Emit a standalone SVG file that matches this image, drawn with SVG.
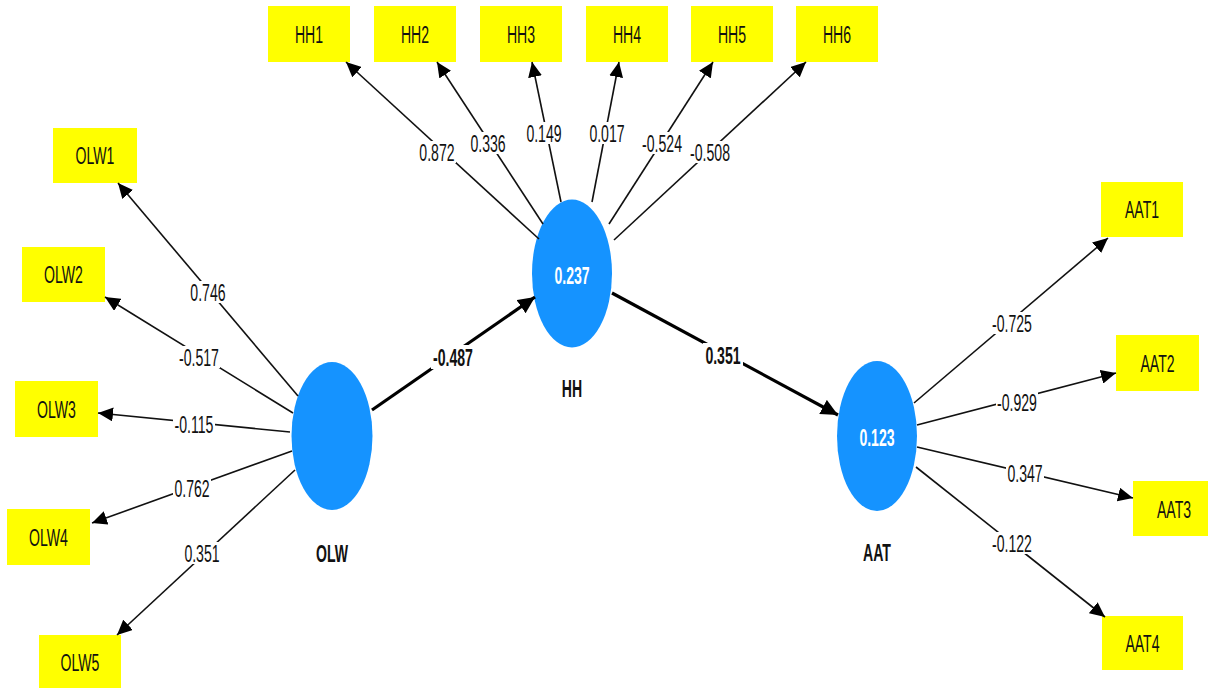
<svg xmlns="http://www.w3.org/2000/svg" width="1208" height="688" viewBox="0 0 1208 688">
<style>
.box{fill:#ffff00}
.lv{fill:#1593ff}
.t{font-family:"Liberation Sans",Arial,sans-serif;font-size:24px;text-anchor:middle;fill:#111}
.b{font-weight:bold}
.w{fill:#ffffff}
.ln{stroke:#111;stroke-width:1.6;fill:none;marker-end:url(#ah)}
.lk{stroke:#000;stroke-width:3.2;fill:none;marker-end:url(#ahb)}
.bg{fill:#ffffff}
</style>
<defs>
<marker id="ah" markerUnits="userSpaceOnUse" markerWidth="16" markerHeight="14" refX="15" refY="7" orient="auto"><path d="M0,0 L15,7 L0,14 z" fill="#000"/></marker>
<marker id="ahb" markerUnits="userSpaceOnUse" markerWidth="18" markerHeight="16" refX="17" refY="8" orient="auto"><path d="M0,0 L17,8 L0,16 z" fill="#000"/></marker>
</defs>
<rect width="1208" height="688" fill="#ffffff"/>

<g id="node-OLW1"><rect class="box" x="53" y="128" width="84" height="55"/><text class="t" transform="scale(0.5867 1)" x="161.9" y="164.5">OLW1</text></g>
<g id="node-OLW2"><rect class="box" x="22" y="247" width="83" height="55"/><text class="t" transform="scale(0.5867 1)" x="108.2" y="283.5">OLW2</text></g>
<g id="node-OLW3"><rect class="box" x="15" y="381" width="83" height="56"/><text class="t" transform="scale(0.5867 1)" x="96.3" y="418">OLW3</text></g>
<g id="node-OLW4"><rect class="box" x="7" y="509" width="83" height="56"/><text class="t" transform="scale(0.5867 1)" x="82.7" y="546">OLW4</text></g>
<g id="node-OLW5"><rect class="box" x="39" y="635" width="82" height="53"/><text class="t" transform="scale(0.5867 1)" x="136.4" y="671">OLW5</text></g>

<g id="node-HH1"><rect class="box" x="268" y="6" width="82" height="56"/><text class="t" transform="scale(0.5867 1)" x="526.7" y="43">HH1</text></g>
<g id="node-HH2"><rect class="box" x="374" y="6" width="82" height="56"/><text class="t" transform="scale(0.5867 1)" x="707.4" y="43">HH2</text></g>
<g id="node-HH3"><rect class="box" x="480" y="6" width="82" height="56"/><text class="t" transform="scale(0.5867 1)" x="888.0" y="43">HH3</text></g>
<g id="node-HH4"><rect class="box" x="586" y="6" width="82" height="56"/><text class="t" transform="scale(0.5867 1)" x="1068.7" y="43">HH4</text></g>
<g id="node-HH5"><rect class="box" x="691" y="6" width="82" height="56"/><text class="t" transform="scale(0.5867 1)" x="1247.7" y="43">HH5</text></g>
<g id="node-HH6"><rect class="box" x="796" y="6" width="82" height="56"/><text class="t" transform="scale(0.5867 1)" x="1426.6" y="43">HH6</text></g>

<g id="node-AAT1"><rect class="box" x="1101" y="182" width="82" height="55"/><text class="t" transform="scale(0.5867 1)" x="1946.5" y="218.5">AAT1</text></g>
<g id="node-AAT2"><rect class="box" x="1116" y="335" width="83" height="56"/><text class="t" transform="scale(0.5867 1)" x="1972.9" y="372">AAT2</text></g>
<g id="node-AAT3"><rect class="box" x="1133" y="481" width="82" height="55"/><text class="t" transform="scale(0.5867 1)" x="2001.0" y="518">AAT3</text></g>
<g id="node-AAT4"><rect class="box" x="1102" y="616" width="81" height="54"/><text class="t" transform="scale(0.5867 1)" x="1947.3" y="652">AAT4</text></g>

<g id="node-OLW"><ellipse class="lv" cx="332" cy="436" rx="40.5" ry="74"/><text class="t b" transform="scale(0.5867 1)" x="565.9" y="562">OLW</text></g>
<g id="node-HH"><ellipse class="lv" cx="572" cy="273.5" rx="40" ry="74"/><text class="t b w" transform="scale(0.5867 1)" x="975.0" y="284">0.237</text><text class="t b" transform="scale(0.5867 1)" x="975.0" y="397">HH</text></g>
<g id="node-AAT"><ellipse class="lv" cx="877" cy="436" rx="40" ry="75"/><text class="t b w" transform="scale(0.5867 1)" x="1494.8" y="446">0.123</text><text class="t b" transform="scale(0.5867 1)" x="1494.8" y="561">AAT</text></g>

<g id="connectors">
<line class="ln" x1="298" y1="396" x2="118" y2="183"/>
<line class="ln" x1="293" y1="413" x2="105" y2="297"/>
<line class="ln" x1="290" y1="432" x2="98" y2="413"/>
<line class="ln" x1="292" y1="451" x2="92" y2="523"/>
<line class="ln" x1="295" y1="470" x2="117" y2="635"/>
<line class="ln" x1="539" y1="239" x2="346" y2="62"/>
<line class="ln" x1="543" y1="224" x2="437" y2="62"/>
<line class="ln" x1="561" y1="202" x2="532" y2="62"/>
<line class="ln" x1="592" y1="202" x2="619" y2="62"/>
<line class="ln" x1="609" y1="224" x2="713" y2="62"/>
<line class="ln" x1="614" y1="240" x2="806" y2="62"/>
<line class="ln" x1="914" y1="403" x2="1108" y2="238"/>
<line class="ln" x1="917" y1="425" x2="1116" y2="373"/>
<line class="ln" x1="917" y1="447" x2="1133" y2="498"/>
<line class="ln" x1="916" y1="467" x2="1105" y2="617"/>
<line class="lk" x1="372" y1="410" x2="535" y2="297"/>
<line class="lk" x1="612" y1="293" x2="838" y2="415"/>

<rect class="bg" x="189" y="281" width="38" height="22"/>
<rect class="bg" x="178" y="346" width="42" height="22"/>
<rect class="bg" x="173" y="413" width="42" height="22"/>
<rect class="bg" x="173" y="477" width="38" height="22"/>
<rect class="bg" x="183" y="542" width="38" height="22"/>
<rect class="bg" x="418" y="141" width="38" height="22"/>
<rect class="bg" x="469" y="132" width="38" height="22"/>
<rect class="bg" x="525" y="122" width="38" height="22"/>
<rect class="bg" x="588" y="122" width="38" height="22"/>
<rect class="bg" x="641" y="132" width="42" height="22"/>
<rect class="bg" x="689" y="141" width="42" height="22"/>
<rect class="bg" x="991" y="312" width="42" height="22"/>
<rect class="bg" x="996" y="391" width="42" height="22"/>
<rect class="bg" x="1006" y="462" width="38" height="22"/>
<rect class="bg" x="991" y="532" width="42" height="22"/>
<rect class="bg" x="431" y="345" width="44" height="24"/>
<rect class="bg" x="703" y="343" width="40" height="24"/>

<text class="t" transform="scale(0.5867 1)" x="354.5" y="301">0.746</text>
<text class="t" transform="scale(0.5867 1)" x="339.2" y="366">-0.517</text>
<text class="t" transform="scale(0.5867 1)" x="330.7" y="433">-0.115</text>
<text class="t" transform="scale(0.5867 1)" x="327.3" y="497">0.762</text>
<text class="t" transform="scale(0.5867 1)" x="344.3" y="562">0.351</text>
<text class="t" transform="scale(0.5867 1)" x="744.8" y="161">0.872</text>
<text class="t" transform="scale(0.5867 1)" x="831.8" y="152">0.336</text>
<text class="t" transform="scale(0.5867 1)" x="927.2" y="142">0.149</text>
<text class="t" transform="scale(0.5867 1)" x="1034.6" y="142">0.017</text>
<text class="t" transform="scale(0.5867 1)" x="1128.4" y="152">-0.524</text>
<text class="t" transform="scale(0.5867 1)" x="1210.2" y="161">-0.508</text>
<text class="t" transform="scale(0.5867 1)" x="1724.9" y="332">-0.725</text>
<text class="t" transform="scale(0.5867 1)" x="1733.4" y="411">-0.929</text>
<text class="t" transform="scale(0.5867 1)" x="1747.1" y="482">0.347</text>
<text class="t" transform="scale(0.5867 1)" x="1724.9" y="552">-0.122</text>
<text class="t b" transform="scale(0.5867 1)" x="772.1" y="366">-0.487</text>
<text class="t b" transform="scale(0.5867 1)" x="1232.3" y="364">0.351</text>
</g>
</svg>
